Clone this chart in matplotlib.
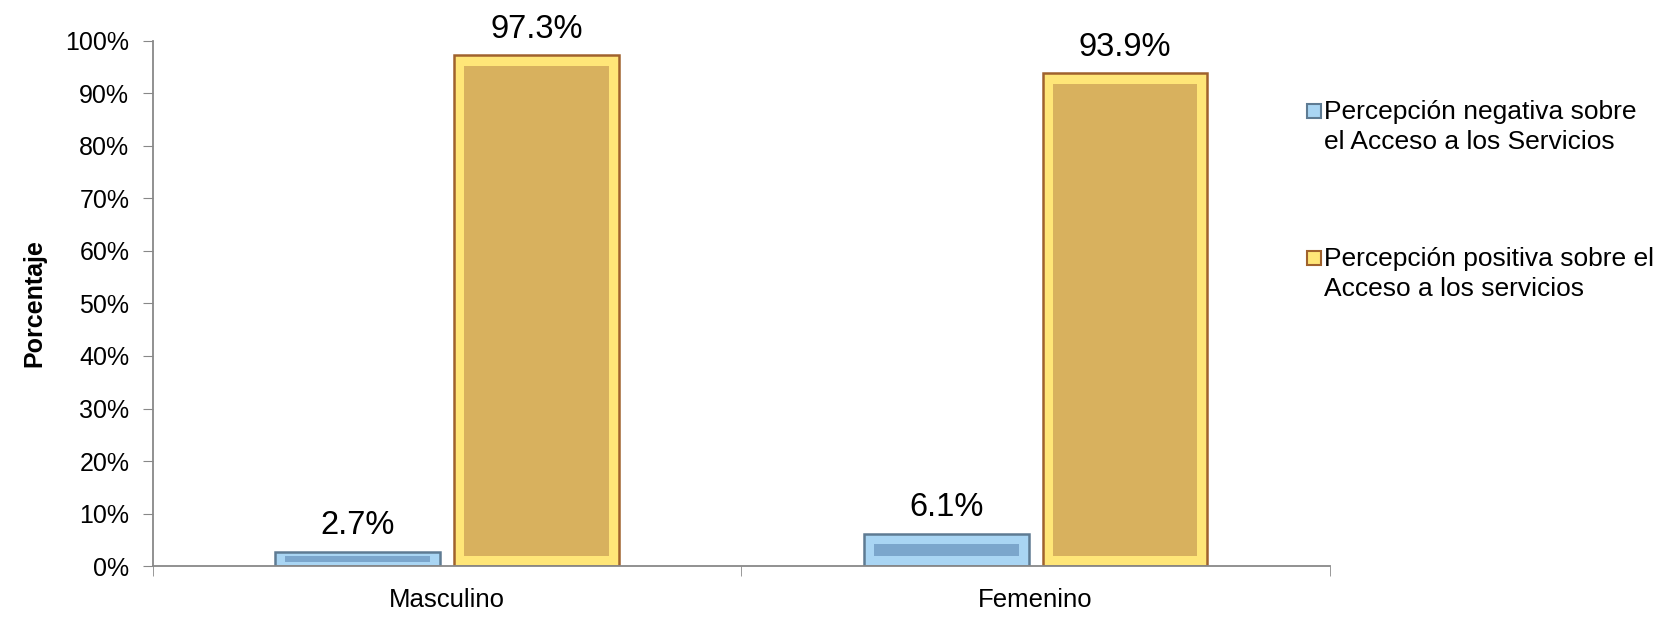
import matplotlib

matplotlib.use('Agg')
import matplotlib.pyplot as plt
from matplotlib.patches import Rectangle
import numpy as np

# Datos del gráfico
categorias = ['Masculino', 'Femenino']
negativa = [2.7, 6.1]
positiva = [97.3, 93.9]
series_labels = ['Percepción negativa sobre\nel Acceso a los Servicios',
                 'Percepción positiva sobre el\nAcceso a los servicios']

plt.rcParams['font.family'] = ['Liberation Sans', 'DejaVu Sans']

fig = plt.figure(figsize=(16.77, 6.19), dpi=100)
ax = fig.add_axes([0.0912, 0.0856, 0.7018, 0.8482])

x = np.arange(len(categorias))
w = 0.28
off = 0.152
dx = 0.017   # ancho del bisel en unidades de x
dy = 2.0     # alto del bisel en unidades de y

estilos = [
    # (valores, desplazamiento, borde, bisel, cara)
    (negativa, -off, '#5E7B93', '#A9D5F3', '#7BA6CC'),
    (positiva, off, '#A0622D', '#FFE678', '#D8B15E'),
]

for vals, o, edge, bevel, face in estilos:
    vals = np.array(vals)
    ax.bar(x + o, vals, width=w, color=bevel, edgecolor=edge, linewidth=1.8, zorder=2)
    inset = np.minimum(dy, vals * 0.3)
    ax.bar(x + o, vals - 2 * inset, width=w - 2 * dx, bottom=inset,
           color=face, linewidth=0, zorder=3)
    for xi, v in zip(x + o, vals):
        ax.text(xi, v + 2.0, f'{v:.1f}%', ha='center', va='bottom', fontsize=23.5, zorder=4)

ax.set_xlim(-0.5, 1.5)
ax.set_ylim(0, 100)
ax.set_yticks(np.arange(0, 101, 10))
ax.set_yticklabels([f'{v}%' for v in range(0, 101, 10)], fontsize=18)
ax.set_xticks(x)
ax.set_xticklabels(categorias, fontsize=18.5)
ax.tick_params(axis='x', length=0, pad=16)
ax.tick_params(axis='y', length=7, color='#888888', pad=10, direction='out')

# marcas de separación de categorías en el eje x
ax.set_xticks([-0.5, 0.5, 1.5], minor=True)
ax.tick_params(axis='x', which='minor', length=7, color='#888888')

for s in ['top', 'right']:
    ax.spines[s].set_visible(False)
for s in ['left', 'bottom']:
    ax.spines[s].set_color('#888888')
    ax.spines[s].set_linewidth(1.3)

ax.set_ylabel('Porcentaje', fontsize=18, fontweight='bold', labelpad=14)

# leyenda manual: el cuadro se alinea con la primera línea del texto
W, H = fig.get_size_inches() * fig.dpi
leg = [('#A9D5F3', '#5E7B93', 111), ('#FFE678', '#A0622D', 258)]
for (fc, ec, ypix), lab in zip(leg, series_labels):
    fig.add_artist(Rectangle((1307 / W, 1 - (ypix + 7) / H), 14 / W, 14 / H,
                             transform=fig.transFigure, facecolor=fc,
                             edgecolor=ec, linewidth=1.5))
    fig.text(1324 / W, 1 - (ypix - 11) / H, lab, ha='left', va='top',
             fontsize=19, linespacing=1.32)

plt.savefig('out.png', dpi=100)
plt.close(fig)
